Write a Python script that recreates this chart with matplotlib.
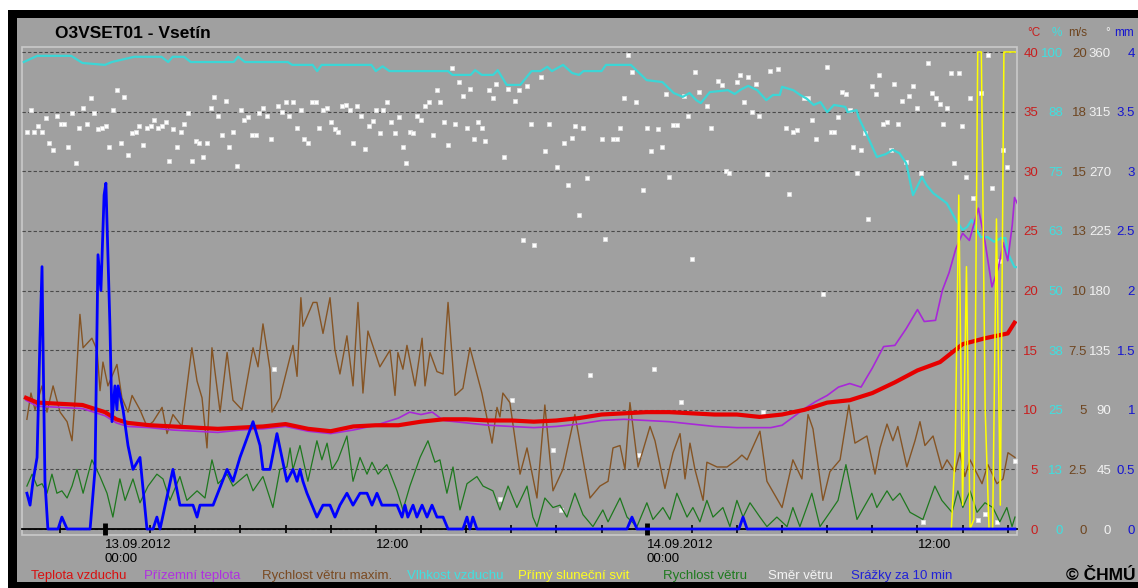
import matplotlib.pyplot as plt
from matplotlib.patches import Rectangle

# time axis: hours from 13.09.2012 00:00

# Teplota vzduchu (deg C)
temp_t = [-3.5, -3, -2, -1, 0, 0.5, 1, 2, 3, 4, 5, 6, 7, 8, 9, 10, 11, 12, 13, 14, 15, 16, 17, 18, 19, 20,
          21, 22, 23, 24, 25, 26, 27, 28, 29, 30, 31, 32, 33, 34, 35, 36, 37, 38, 39, 40, 40.3]
temp = [11.0, 10.6, 10.5, 10.4, 9.8, 9.2, 8.9, 8.7, 8.6, 8.5, 8.4, 8.5, 8.6, 8.8, 8.4, 8.2, 8.6, 8.7, 8.7, 9.0,
        9.2, 9.2, 9.1, 9.1, 9.0, 9.1, 9.3, 9.6, 9.7, 9.8, 9.8, 9.7, 9.6, 9.6, 9.4, 9.6, 10.0, 10.6, 10.8, 11.4,
        12.3, 13.3, 14.0, 15.5, 16.0, 16.4, 17.3]

# Prizemni teplota (deg C)
ground_t = [-3.5, -3, -2, -1, 0, 0.5, 1, 2, 3, 4, 5, 6, 7, 8, 9, 10, 11, 12, 13, 13.5, 14, 14.5, 15, 16, 17,
            18, 19, 20, 21, 22, 23, 24, 25, 26, 27, 28, 29, 29.5, 30, 30.5, 31, 31.5, 32, 32.5, 33, 33.5, 34,
            34.5, 35, 35.5, 36, 36.3, 36.8, 37.1, 37.4, 37.7, 38, 38.3, 38.7, 39, 39.3, 39.6, 39.8, 40, 40.2,
            40.3, 40.45]
ground = [10.8, 10.3, 10.2, 10.1, 9.5, 8.9, 8.6, 8.5, 8.3, 8.2, 8.1, 8.3, 8.4, 8.6, 8.2, 8.0, 8.3, 8.7, 9.3,
          9.8, 9.6, 9.8, 9.1, 8.9, 8.7, 8.6, 8.5, 8.6, 8.8, 9.1, 9.2, 9.1, 9.0, 8.8, 8.6, 8.5, 8.5, 8.5, 8.7,
          9.4, 10.1, 10.7, 11.2, 11.9, 12.2, 11.9, 13.5, 15.3, 15.4, 16.8, 18.4, 17.4, 17.5, 20.0, 21.5, 23.5,
          24.8, 24.2, 26.9, 24.0, 20.3, 22.0, 24.0, 22.5, 25.5, 27.8, 27.2]

# Vlhkost vzduchu (%)
hum_t = [-3.6, -3.0, -1.5, -1.0, 0.0, 0.3, 1.3, 2.5, 2.8, 3.0, 3.5, 3.8, 5.7, 5.9, 6.2, 8.1, 8.3, 9.2, 9.4,
         9.6, 11.8, 12.0, 12.3, 12.6, 15.2, 15.4, 16.2, 16.4, 16.7, 17.2, 17.4, 17.8, 18.4, 18.9, 19.3, 19.6,
         19.8, 20.3, 20.7, 21.0, 21.2, 22.0, 22.2, 23.3, 24.0, 24.7, 25.2, 25.6, 25.9, 26.2, 26.4, 26.8, 27.6,
         27.9, 28.2, 28.5, 28.9, 29.3, 29.6, 29.9, 30.0, 30.5, 30.8, 31.1, 31.4, 31.7, 32.0, 32.3, 32.8, 32.9,
         33.3, 33.4, 33.8, 34.2, 34.6, 34.9, 35.2, 35.5, 35.8, 36.2, 36.4, 36.7, 37.3, 37.7, 38.0, 38.2, 38.4,
         38.8, 39.1, 39.4, 39.7, 39.9, 40.0, 40.3, 40.5]
hum = [97.9, 99.2, 99.2, 97.7, 97.3, 97.9, 99.0, 99.0, 97.9, 99.0, 99.0, 97.9, 97.9, 99.0, 97.9, 97.9, 97.3,
       97.3, 96.0, 97.3, 97.3, 96.0, 97.0, 96.0, 96.0, 95.2, 95.2, 96.2, 95.2, 95.2, 96.2, 93.1, 93.1, 96.0,
       96.0, 96.9, 96.0, 97.3, 95.6, 95.2, 96.0, 96.0, 97.3, 97.3, 94.1, 93.7, 91.4, 90.6, 91.4, 89.9, 89.3,
       91.6, 92.0, 91.2, 92.2, 92.9, 92.0, 89.9, 91.0, 91.0, 92.7, 92.0, 91.0, 90.2, 88.9, 89.5, 87.4, 88.9,
       88.5, 87.4, 87.8, 86.2, 82.2, 78.0, 78.6, 79.5, 78.8, 76.7, 70.0, 73.8, 72.1, 70.4, 68.3, 64.8, 62.7,
       63.3, 64.8, 61.2, 61.2, 60.2, 61.0, 61.0, 57.9, 54.9, 54.9]

# Rychlost vetru maxim. (m/s)
gust_t = [-3.46, -3.28, -3.10, -2.79, -2.57, -2.30, -1.99, -1.68, -1.46, -1.33, -1.11, -0.97, -0.58, -0.35,
          -0.22, -0.09, 0.13, 0.53, 0.75, 1.02, 1.20, 1.55, 1.86, 2.13, 2.53, 2.75, 3.01, 3.41, 3.85, 4.08,
          4.30, 4.52, 4.74, 5.10, 5.41, 5.67, 6.07, 6.56, 6.78, 7.00, 7.31, 7.40, 7.75, 8.33, 8.51, 8.68,
          8.77, 9.22, 9.39, 9.66, 9.97, 10.19, 10.41, 10.72, 10.99, 11.21, 11.43, 11.65, 12.18, 12.63, 12.85,
          12.98, 13.20, 13.38, 13.74, 14.05, 14.18, 14.40, 14.71, 14.98, 15.20, 15.51, 15.86, 16.17, 16.70,
          17.15, 17.37, 17.50, 17.63, 17.94, 18.39, 18.70, 19.14, 19.49, 19.85, 20.29, 20.82, 21.05, 21.49,
          21.93, 22.29, 22.51, 22.82, 23.04, 23.26, 23.62, 24.15, 24.37, 24.81, 25.17, 25.48, 25.70, 25.92,
          26.14, 26.50, 26.67, 27.12, 27.56, 28.00, 28.22, 28.45, 29.02, 29.33, 30.00, 30.48, 30.88, 31.15,
          31.37, 31.81, 32.12, 32.57, 32.96, 33.23, 33.76, 34.12, 34.34, 34.65, 34.91, 35.13, 35.53, 35.89,
          36.11, 36.33, 36.69, 37.09, 37.31, 37.66, 37.88, 38.10, 38.33, 38.86, 39.12, 39.52, 39.79, 40.01,
          40.32]
gust = [4.6, 5.7, 5.0, 6.0, 4.9, 6.0, 4.9, 4.5, 3.7, 5.4, 9.0, 7.6, 8.0, 7.5, 5.8, 7.0, 6.0, 6.9, 5.5, 4.9,
        5.6, 5.0, 4.3, 4.5, 5.1, 4.0, 4.8, 4.3, 7.6, 6.2, 5.5, 3.4, 7.6, 4.9, 7.4, 5.4, 5.0, 7.6, 6.8, 8.6,
        6.7, 4.9, 5.5, 7.7, 6.4, 9.7, 8.5, 9.5, 9.5, 8.2, 9.7, 7.5, 6.5, 8.1, 6.0, 9.5, 5.7, 8.3, 6.8, 7.5,
        5.6, 7.4, 6.7, 7.7, 6.0, 8.0, 6.0, 7.4, 6.6, 6.5, 9.5, 5.6, 5.9, 7.6, 5.7, 3.6, 5.1, 4.7, 5.7, 5.3,
        2.3, 3.4, 1.3, 5.2, 1.6, 2.5, 4.8, 3.6, 1.3, 1.8, 2.0, 3.4, 3.5, 2.5, 5.3, 2.6, 4.3, 3.7, 1.7, 3.2,
        4.0, 2.1, 3.6, 2.5, 1.2, 2.8, 2.6, 2.6, 2.9, 3.1, 2.9, 4.1, 2.0, 0.9, 2.9, 2.1, 4.8, 4.2, 1.2, 2.4,
        2.9, 5.2, 3.6, 3.9, 2.3, 3.4, 4.4, 3.7, 4.3, 2.6, 3.7, 4.5, 3.5, 3.9, 2.5, 2.9, 2.4, 3.2, 2.2, 2.9,
        1.9, 2.7, 1.9, 2.1, 3.2, 3.0]

# Rychlost vetru (m/s)
wind_t = [-3.46, -3.23, -3.01, -2.79, -2.57, -2.35, -2.13, -1.91, -1.68, -1.46, -1.24, -0.97, -0.58, -0.22,
          0.09, 0.35, 0.66, 0.89, 1.24, 1.55, 1.91, 2.30, 2.57, 2.88, 3.32, 3.63, 4.08, 4.43, 4.74, 5.01,
          5.41, 5.67, 6.29, 6.56, 7.00, 7.44, 7.75, 8.06, 8.20, 8.33, 8.64, 8.99, 9.39, 9.61, 9.84, 10.06,
          10.32, 10.72, 10.99, 11.30, 11.61, 11.83, 12.10, 12.49, 12.94, 13.20, 13.51, 13.96, 14.31, 14.62,
          14.84, 15.15, 15.42, 15.73, 16.04, 16.48, 16.75, 17.19, 17.50, 17.86, 18.25, 18.70, 18.96, 19.14,
          19.49, 19.85, 20.16, 20.47, 20.82, 21.18, 21.62, 22.06, 22.29, 22.82, 23.13, 23.57, 24.01, 24.28,
          24.72, 25.03, 25.34, 25.79, 26.05, 26.36, 26.67, 26.94, 27.38, 27.69, 28.00, 28.27, 28.58, 29.02,
          29.33, 29.77, 30.22, 30.48, 30.79, 31.32, 31.68, 32.12, 32.48, 32.83, 33.32, 33.98, 34.20, 34.65,
          34.91, 35.22, 35.67, 36.24, 36.77, 37.08, 37.53, 37.79, 38.01, 38.33, 38.64, 38.99, 39.34, 39.65,
          39.96, 40.19, 40.32]
wind = [1.8, 2.3, 1.8, 1.9, 1.5, 2.3, 1.5, 1.6, 1.3, 1.8, 2.5, 1.5, 2.9, 2.2, 1.5, 0.5, 2.1, 1.2, 2.1, 1.1,
        1.8, 2.3, 2.1, 1.2, 2.2, 1.2, 1.6, 1.3, 2.9, 1.9, 2.3, 1.8, 2.3, 1.6, 2.2, 0.9, 2.5, 2.6, 3.4, 2.5,
        3.5, 2.0, 3.7, 2.9, 3.6, 2.5, 2.9, 3.9, 2.0, 3.0, 2.3, 2.8, 2.3, 2.7, 1.6, 0.8, 1.8, 3.0, 3.7, 2.8,
        2.9, 1.5, 2.6, 0.8, 1.9, 2.2, 1.8, 1.6, 0.8, 1.8, 0.9, 1.8, 0.5, 0.1, 1.3, 0.9, 1.0, 0.5, 1.5, 0.6,
        0.1, 0.8, 0.3, 1.3, 0.5, 0.1, 1.1, 0.4, 0.9, 0.4, 1.5, 0.5, 0.9, 0.3, 1.2, 0.5, 0.9, 0.1, 1.2, 0.5,
        1.1, 0.5, 0.1, 0.5, 0.1, 0.9, 0.1, 1.5, 0.1, 0.7, 1.2, 2.7, 0.4, 1.5, 0.9, 1.6, 1.2, 1.5, 0.7, 0.4,
        1.8, 1.2, 0.7, 1.6, 0.9, 1.6, 0.7, 1.1, 0.9, 0.3, 0.9, 0.1, 0.5]

# Primy slunecni svit (min / 10 min)
sun_t = [37.33, 37.50, 37.67, 37.83, 38.00, 38.17, 38.33, 38.50, 38.67, 38.83, 39.00, 39.17, 39.33, 39.50,
         39.67, 39.83, 40.00, 40.17, 40.33]
sun = [0, 0, 1.6, 7.0, 0.5, 5.5, 0, 0.2, 10, 10, 2.5, 0, 0, 6.5, 0.5, 10, 10, 10, 10]

# Srazky za 10 min (mm)
rain_t = [-3.46, -3.32, -3.19, -3.01, -2.88, -2.79, -2.75, -2.66, -2.53, -2.08, -1.91, -1.68, -0.66, -0.44,
          -0.31, -0.18, -0.04, 0.04, 0.13, 0.22, 0.31, 0.44, 0.53, 0.58, 0.80, 1.02, 1.24, 1.55, 1.86, 2.13,
          2.30, 2.44, 3.01, 3.32, 3.90, 4.08, 4.21, 4.79, 5.41, 5.67, 5.98, 6.56, 6.87, 7.00, 7.31, 7.62,
          7.84, 8.06, 8.33, 8.51, 8.64, 8.77, 8.95, 9.39, 9.66, 9.97, 10.19, 10.41, 10.72, 10.99, 11.30,
          11.61, 11.83, 12.05, 12.27, 12.94, 13.16, 13.29, 13.42, 13.65, 13.82, 14.05, 14.27, 14.49, 14.71,
          14.98, 15.20, 15.86, 16.04, 16.17, 16.30, 16.48, 23.13, 23.35, 23.57, 28.09, 28.27, 28.45, 40.32]
rain = [0.3, 0.2, 0.4, 0.6, 1.6, 2.2, 1.6, 0.4, 0.0, 0.0, 0.1, 0.0, 0.0, 0.5, 2.3, 2.0, 2.8, 2.9, 2.3, 1.7,
        0.9, 1.2, 1.0, 1.2, 1.0, 0.7, 0.5, 0.6, 0.0, 0.0, 0.1, 0.0, 0.5, 0.2, 0.2, 0.1, 0.2, 0.2, 0.5, 0.4,
        0.6, 0.9, 0.7, 0.5, 0.5, 0.8, 0.6, 0.4, 0.5, 0.4, 0.5, 0.4, 0.3, 0.1, 0.2, 0.2, 0.1, 0.2, 0.3, 0.2,
        0.3, 0.3, 0.2, 0.3, 0.2, 0.2, 0.1, 0.2, 0.1, 0.2, 0.1, 0.2, 0.1, 0.2, 0.1, 0.1, 0.0, 0.0, 0.1, 0.0,
        0.1, 0.0, 0.0, 0.1, 0.0, 0.0, 0.1, 0.0, 0.0]

# Smer vetru (deg)
wdir_t = [-3.46, -3.28, -3.15, -2.97, -2.79, -2.61, -2.48, -2.30, -2.13, -1.95, -1.82, -1.64, -1.46, -1.28,
          -1.15, -0.97, -0.80, -0.62, -0.49, -0.31, -0.13, 0.04, 0.18, 0.35, 0.53, 0.71, 0.84, 1.02, 1.20,
          1.37, 1.51, 1.68, 1.86, 2.04, 2.17, 2.35, 2.53, 2.70, 2.84, 3.01, 3.19, 3.37, 3.50, 3.68, 3.85,
          4.03, 4.17, 4.34, 4.52, 4.70, 4.83, 5.01, 5.18, 5.36, 5.49, 5.67, 5.85, 6.03, 6.16, 6.34, 6.51,
          6.69, 6.82, 7.00, 7.18, 7.36, 7.49, 7.67, 7.84, 8.02, 8.15, 8.33, 8.51, 8.68, 8.82, 8.99, 9.17,
          9.35, 9.48, 9.66, 9.84, 10.01, 10.19, 10.32, 10.50, 10.68, 10.85, 10.99, 11.17, 11.34, 11.52, 11.70,
          11.87, 12.01, 12.18, 12.32, 12.49, 12.67, 12.85, 13.03, 13.20, 13.34, 13.51, 13.65, 13.82, 14.00,
          14.18, 14.36, 14.53, 14.71, 14.84, 15.02, 15.20, 15.38, 15.51, 15.69, 15.86, 16.04, 16.17, 16.35,
          16.53, 16.70, 16.84, 17.02, 17.19, 17.33, 17.50, 17.68, 17.86, 18.03, 18.17, 18.34, 18.52, 18.70,
          18.88, 19.01, 19.32, 19.50, 19.67, 19.85, 20.03, 20.21, 20.34, 20.52, 20.69, 20.83, 21.00, 21.18,
          21.36, 21.49, 22.02, 22.15, 22.51, 22.69, 22.82, 23.00, 23.17, 23.35, 23.53, 23.66, 23.84, 24.02,
          24.19, 24.33, 24.50, 24.68, 24.86, 24.99, 25.17, 25.34, 25.52, 25.66, 25.83, 26.01, 26.14, 26.32,
          26.67, 26.85, 27.16, 27.34, 27.52, 27.65, 28.00, 28.14, 28.31, 28.49, 28.67, 28.85, 28.98, 29.16,
          29.33, 29.47, 29.82, 30.17, 30.31, 30.48, 30.66, 30.97, 31.15, 31.33, 31.50, 31.81, 31.99, 32.17,
          32.30, 32.48, 32.66, 32.83, 33.01, 33.14, 33.32, 33.50, 33.68, 33.81, 33.99, 34.16, 34.30, 34.47,
          34.65, 34.83, 34.96, 35.14, 35.31, 35.49, 35.62, 35.80, 35.98, 36.16, 36.24, 36.47, 36.64, 36.82,
          37.00, 37.13, 37.31, 37.49, 37.62, 37.84, 37.97, 38.15, 38.33, 38.46, 38.68, 38.81, 38.99, 39.12,
          39.30, 39.52, 39.66, 39.79, 39.97, 40.32]
wdir = [300, 316, 300, 304, 300, 310, 291, 286, 312, 306, 306, 288, 314, 276, 303, 318, 306, 325, 314, 302,
        303, 304, 288, 316, 331, 291, 326, 282, 299, 300, 304, 290, 303, 304, 309, 303, 304, 307, 278, 302,
        288, 300, 306, 314, 278, 293, 291, 281, 291, 318, 326, 312, 297, 323, 288, 300, 274, 316, 309, 311,
        297, 297, 314, 318, 312, 294, 121, 319, 315, 322, 312, 322, 303, 316, 294, 291, 322, 322, 303, 316,
        318, 307, 302, 300, 319, 320, 316, 291, 319, 312, 287, 304, 308, 316, 299, 316, 322, 307, 299, 311,
        288, 276, 300, 299, 312, 309, 319, 322, 297, 331, 322, 307, 290, 348, 306, 337, 327, 303, 332, 294,
        307, 303, 293, 331, 325, 336, 23, 281, 332, 97, 323, 331, 218, 334, 306, 214, 341, 285, 306, 60,
        273, 14, 291, 260, 295, 304, 237, 303, 265, 116, 294, 219, 294, 294, 303, 325, 358, 345, 322, 56,
        256, 303, 285, 121, 302, 288, 328, 266, 305, 305, 96, 327, 312, 204, 345, 330, 319, 303, 338, 335,
        270, 269, 337, 343, 322, 341, 315, 336, 312, 88, 268, 346, 347, 303, 253, 300, 301, 325, 325, 309,
        294, 177, 349, 300, 300, 311, 330, 328, 316, 288, 269, 286, 299, 234, 334, 328, 343, 306, 307, 286,
        336, 306, 323, 277, 327, 334, 318, 269, 5, 352, 329, 325, 321, 306, 318, 344, 276, 344, 304, 266,
        325, 250, 7, 329, 11, 358, 257, 5, 202, 286, 273, 51]

# right-hand scales
temp_ticks = [0, 5, 10, 15, 20, 25, 30, 35, 40]
hum_ticks = [0, 12.5, 25, 37.5, 50, 62.5, 75, 87.5, 100]
hum_labels = ['0', '13', '25', '38', '50', '63', '75', '88', '100']
wind_ticks = [0, 2.5, 5, 7.5, 10, 12.5, 15, 17.5, 20]
wind_labels = ['0', '2.5', '5', '7.5', '10', '13', '15', '18', '20']
dir_ticks = [0, 45, 90, 135, 180, 225, 270, 315, 360]
rain_ticks = [0, 0.5, 1, 1.5, 2, 2.5, 3, 3.5, 4]
rain_labels = ['0', '0.5', '1', '1.5', '2', '2.5', '3', '3.5', '4']

legend_names = ['Teplota vzduchu', 'Přízemní teplota', 'Rychlost větru maxim.', 'Vlhkost vzduchu',
                'Přímý sluneční svit', 'Rychlost větru', 'Směr větru', 'Srážky za 10 min']

RED = '#e60000'
PURPLE = '#a828d8'
BROWN = '#855424'
CYAN = '#3cd6d6'
YELLOW = '#ffff00'
GREEN = '#1e781e'
WHITE = '#ffffff'
BLUE = '#0000ff'
BG = '#a0a0a0'

legend_colors = ['#d81010', '#b030e0', '#7a4a22', '#40e0e0', '#ffff20', '#1e7a1e', '#f4f4f4', '#2020d8']
legend_x = [31, 144, 262, 407, 518, 663, 768, 851]

W, H = 1138, 588
plt.rcParams['font.family'] = ['Liberation Sans', 'DejaVu Sans']
plt.rcParams['font.size'] = 9.5

fig = plt.figure(figsize=(W / 100, H / 100), dpi=100, facecolor='white')


def fx(px):
    return px / W


def fy(py):
    return 1 - py / H


# black frame + grey panel
fig.patches.append(Rectangle((fx(8), 0), 1, fy(10), transform=fig.transFigure,
                             facecolor='black', edgecolor='none', zorder=-3))
fig.patches.append(Rectangle((fx(17), fy(582)), 1, fy(18) - fy(582), transform=fig.transFigure,
                             facecolor=BG, edgecolor='none', zorder=-2))

T_LO, T_HI = -0.503, 40.42
ax = fig.add_axes([fx(22), fy(535), fx(1017) - fx(22), fy(47) - fy(535)])
ax.set_facecolor(BG)
ax.set_xlim(-3.677, 40.41)
ax.set_ylim(T_LO, T_HI)


def twin(k):
    a = ax.twinx()
    a.set_ylim(T_LO * k, T_HI * k)
    for s in a.spines.values():
        s.set_visible(False)
    a.set_yticks([])
    return a


def right_labels(a, ticks, labels, color, pad):
    a.yaxis.tick_right()
    a.set_yticks(ticks, labels)
    a.tick_params(axis='y', length=0, pad=pad, labelcolor=color, labelsize=9.5)
    plt.setp(a.get_yticklabels(), ha='right')


ax_dir = twin(9)
ax_hum = twin(2.5)
ax_wind = twin(0.5)
ax_temp = twin(1)
ax_sun = twin(0.25)
ax_rain = twin(0.1)

ax_dir.plot(wdir_t, wdir, ls='none', marker='s', ms=3.4, mfc=WHITE, mec='#e0e0e0', mew=0.6)
ax_hum.plot(hum_t, hum, color=CYAN, lw=1.6)
ax_wind.plot(wind_t, wind, color=GREEN, lw=0.9)
ax_wind.plot(gust_t, gust, color=BROWN, lw=1.0)
ax_temp.plot(ground_t, ground, color=PURPLE, lw=1.2)
ax_temp.plot(temp_t, temp, color=RED, lw=3.0, solid_joinstyle='round')
ax_sun.plot(sun_t, sun, color=YELLOW, lw=1.1)
ax_rain.plot(rain_t, rain, color=BLUE, lw=2.0)

right_labels(ax_hum, hum_ticks, hum_labels, '#3ee0e0', 33.1)
right_labels(ax_wind, wind_ticks, wind_labels, '#6e4520', 50.4)
right_labels(ax_dir, dir_ticks, [str(d) for d in dir_ticks], '#f2f2f2', 67.7)
right_labels(ax_rain, rain_ticks, rain_labels, '#1515d0', 85.0)

# main axis: grid, temperature scale, time axis
ax.grid(axis='y', color='#4a4a4a', lw=0.8, ls=(0, (3, 2)))
right_labels(ax, temp_ticks, [str(v) for v in temp_ticks], '#c81e1e', 15.1)
for side in ['left', 'right', 'top']:
    ax.spines[side].set_visible(False)
ax.spines['bottom'].set_position(('data', 0))
ax.spines['bottom'].set_linewidth(1.3)
ax.add_patch(Rectangle((0, 0), 1, 1, transform=ax.transAxes, fill=False,
                       edgecolor='#cacaca', lw=1.2, clip_on=False))

ax.set_xticks([0, 24], ['13.09.2012\n00:00', '14.09.2012\n00:00'])
minor = [h for h in range(-2, 41, 2) if h % 24 != 0]
ax.set_xticks(minor, ['12:00' if h % 24 == 12 else '' for h in minor], minor=True)
ax.tick_params(axis='x', which='major', direction='inout', length=8, width=3.5, pad=3.2, labelsize=9.5)
ax.tick_params(axis='x', which='minor', direction='inout', length=6, width=1.2, pad=4.3, labelsize=9.5)
plt.setp(ax.get_xticklabels(which='both'), ha='left')

# titles and unit headers
fig.text(fx(55), fy(33), 'O3VSET01 - Vsetín', fontsize=12.5, fontweight='bold', va='center')
units = [('°C', '#c81e1e', 1040), ('%', '#3ee0e0', 1062), ('m/s', '#6e4520', 1087),
         ('°', '#f2f2f2', 1110), ('mm', '#1515d0', 1134)]
for txt, c, x in units:
    fig.text(fx(x), fy(33), txt, color=c, fontsize=8.5, ha='right', va='center')

for name, c, x in zip(legend_names, legend_colors, legend_x):
    fig.text(fx(x), fy(576), name, color=c, fontsize=9.5, va='center')
fig.text(fx(1066), fy(575), '© ČHMÚ', fontsize=12.5, fontweight='bold', va='center')

fig.savefig('out.png', dpi=100, facecolor=fig.get_facecolor())
